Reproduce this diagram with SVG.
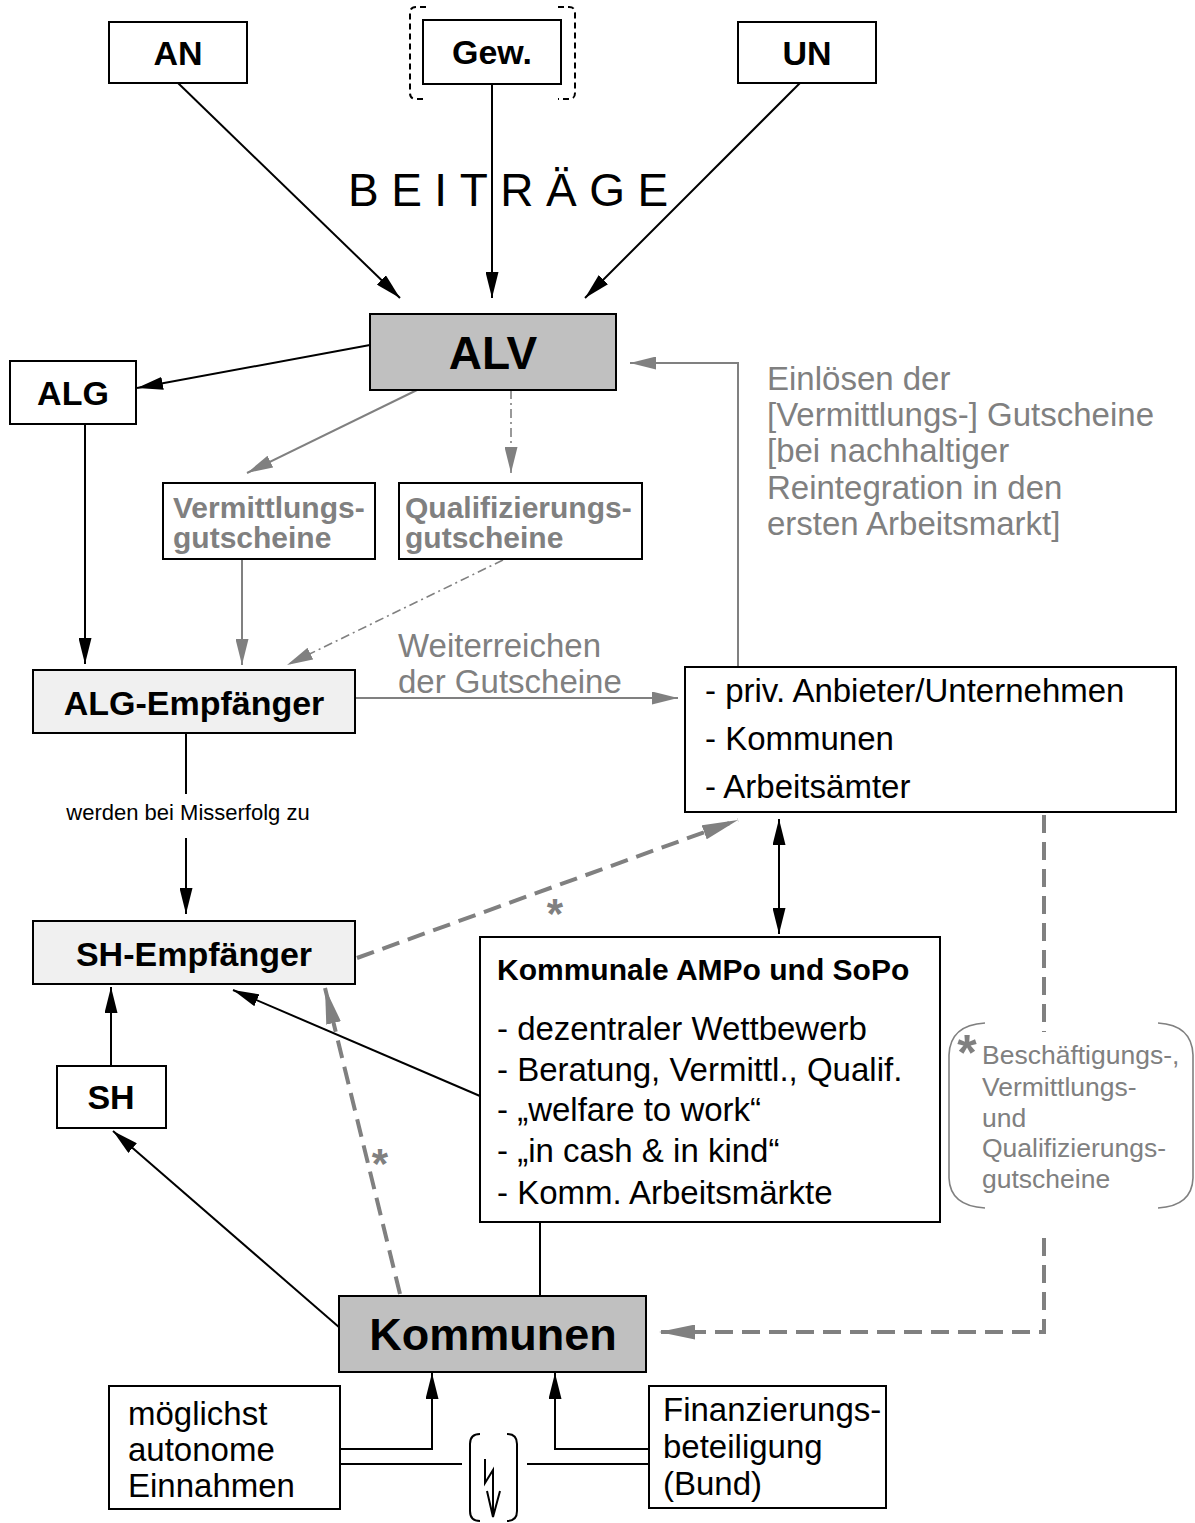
<svg xmlns="http://www.w3.org/2000/svg" width="1195" height="1523" viewBox="0 0 1195 1523">
<style>
text{font-family:"Liberation Sans",Arial,Helvetica,sans-serif;}
.box{fill:#fff;stroke:#000;stroke-width:2;}
.dark{fill:#c0c0c0;stroke:#000;stroke-width:2;}
.light{fill:#f0f0f0;stroke:#000;stroke-width:2;}
.b34{font-size:34px;font-weight:bold;text-anchor:middle;fill:#000;}
.g30{font-size:30px;font-weight:bold;fill:#808080;}
.t33{font-size:33px;fill:#000;}
.gt33{font-size:33px;fill:#808080;}
.ln{fill:none;stroke:#000;stroke-width:2;}
.gl{fill:none;stroke:#808080;stroke-width:2;}
.gdd{fill:none;stroke:#808080;stroke-width:1.6;stroke-dasharray:9 4 2 4;}
.gd{fill:none;stroke:#808080;stroke-width:4;stroke-dasharray:18 9;}
.star{font-weight:bold;fill:#808080;text-anchor:middle;}
</style>
<defs>
<marker id="ab" viewBox="0 0 26 13" refX="26" refY="6.5" markerWidth="26" markerHeight="13" markerUnits="userSpaceOnUse" orient="auto-start-reverse"><path d="M0,0 L26,6.5 L0,13 z" fill="#000"/></marker>
<marker id="ag" viewBox="0 0 26 13" refX="26" refY="6.5" markerWidth="26" markerHeight="13" markerUnits="userSpaceOnUse" orient="auto"><path d="M0,0 L26,6.5 L0,13 z" fill="#808080"/></marker>
<marker id="agb" viewBox="0 0 36 15" refX="36" refY="7.5" markerWidth="36" markerHeight="15" markerUnits="userSpaceOnUse" orient="auto"><path d="M0,0 L36,7.5 L0,15 z" fill="#808080"/></marker>
</defs>

<g id="connectors">
<path class="ln" d="M178,83 L400,298" marker-end="url(#ab)"/>
<path class="ln" d="M492,84 L492,298" marker-end="url(#ab)"/>
<path class="ln" d="M800,83 L585,298" marker-end="url(#ab)"/>
<path class="ln" d="M370,345 L137,388" marker-end="url(#ab)"/>
<path class="ln" d="M85,424 L85,664" marker-end="url(#ab)"/>
<path class="gl" d="M417,390 L247,473" marker-end="url(#ag)"/>
<path class="gdd" d="M511,390 L511,473" marker-end="url(#ag)"/>
<path class="gl" d="M242,559 L242,665" marker-end="url(#ag)"/>
<path class="gdd" d="M503,560 L287,665" marker-end="url(#ag)"/>
<path class="gl" d="M355,698 L678,698" marker-end="url(#ag)"/>
<path class="gl" d="M738,667 L738,363 L630,363" marker-end="url(#ag)"/>
<path class="ln" d="M186,733 L186,794"/>
<path class="ln" d="M186,838 L186,914" marker-end="url(#ab)"/>
<path class="ln" d="M779,819 L779,934" marker-start="url(#ab)" marker-end="url(#ab)"/>
<path class="gd" d="M357,958 L738,820" marker-end="url(#agb)"/>
<path class="gd" d="M1044,815 L1044,1032"/>
<path class="gd" d="M1044,1238 L1044,1332 L659,1332" marker-end="url(#agb)"/>
<path class="ln" d="M480,1096 L233,990" marker-end="url(#ab)"/>
<path class="gd" d="M400,1294 L325,988" marker-end="url(#agb)"/>
<path class="ln" d="M111,1066 L111,987" marker-end="url(#ab)"/>
<path class="ln" d="M340,1328 L113,1131" marker-end="url(#ab)"/>
<path class="ln" d="M540,1222 L540,1296"/>
<path class="ln" d="M340,1449 L432,1449 L432,1373" marker-end="url(#ab)"/>
<path class="ln" d="M649,1449 L555,1449 L555,1373" marker-end="url(#ab)"/>
<path class="ln" d="M340,1464 L462,1464"/>
<path class="ln" d="M527,1464 L649,1464"/>
</g>

<g id="beitraege">
<text x="348" y="206" style="font-size:46px;letter-spacing:12.5px;fill:#000">BEITRÄGE</text>
</g>

<g id="AN"><rect class="box" x="109" y="22" width="138" height="61"/><text class="b34" x="178" y="65">AN</text></g>
<g id="Gew">
<path d="M426,7 L416,7 Q410,7 410,13 L410,93 Q410,99 416,99 L426,99" fill="none" stroke="#000" stroke-width="2" stroke-dasharray="6 4"/>
<path d="M558,7 L569,7 Q575,7 575,13 L575,93 Q575,99 569,99 L558,99" fill="none" stroke="#000" stroke-width="2" stroke-dasharray="6 4"/>
<rect class="box" x="423" y="20" width="138" height="64"/><text class="b34" x="492" y="64">Gew.</text></g>
<g id="UN"><rect class="box" x="738" y="22" width="138" height="61"/><text class="b34" x="807" y="65">UN</text></g>

<g id="ALV"><rect class="dark" x="370" y="314" width="246" height="76"/><text x="493" y="369" style="font-size:46px;font-weight:bold;text-anchor:middle">ALV</text></g>
<g id="ALG"><rect class="box" x="10" y="361" width="126" height="63"/><text class="b34" x="73" y="405">ALG</text></g>

<g id="einloesen">
<text class="gt33" x="767" y="390">Einlösen der</text>
<text class="gt33" x="767" y="426">[Vermittlungs-] Gutscheine</text>
<text class="gt33" x="767" y="462">[bei nachhaltiger</text>
<text class="gt33" x="767" y="499">Reintegration in den</text>
<text class="gt33" x="767" y="535">ersten Arbeitsmarkt]</text>
</g>

<g id="vermittlungsgutscheine"><rect class="box" x="163" y="483" width="212" height="76"/><text class="g30" x="173" y="518">Vermittlungs-</text><text class="g30" x="173" y="548">gutscheine</text></g>
<g id="qualifizierungsgutscheine"><rect class="box" x="399" y="483" width="243" height="76"/><text class="g30" x="405" y="518">Qualifizierungs-</text><text class="g30" x="405" y="548">gutscheine</text></g>

<g id="weiterreichen">
<text class="gt33" x="398" y="657">Weiterreichen</text>
<text class="gt33" x="398" y="693">der Gutscheine</text>
</g>

<g id="ALG-Empfaenger"><rect class="light" x="33" y="670" width="322" height="63"/><text class="b34" x="194" y="715">ALG-Empfänger</text></g>
<g id="anbieter"><rect class="box" x="685" y="667" width="491" height="145"/>
<text class="t33" x="705" y="702">- priv. Anbieter/Unternehmen</text>
<text class="t33" x="705" y="750">- Kommunen</text>
<text class="t33" x="705" y="798">- Arbeitsämter</text></g>

<g id="misserfolg"><text x="188" y="820" style="font-size:22px;text-anchor:middle;fill:#000">werden bei Misserfolg zu</text></g>

<g id="SH-Empfaenger"><rect class="light" x="33" y="921" width="322" height="63"/><text class="b34" x="194" y="966">SH-Empfänger</text></g>

<g id="stars">
<text class="star" x="555" y="928" style="font-size:42px">*</text>
<text class="star" x="380" y="1178" style="font-size:42px">*</text>
</g>

<g id="kommunale"><rect class="box" x="480" y="937" width="460" height="285"/>
<text x="497" y="980" style="font-size:30px;font-weight:bold;fill:#000">Kommunale AMPo und SoPo</text>
<text class="t33" x="497" y="1040">- dezentraler Wettbewerb</text>
<text class="t33" x="497" y="1081">- Beratung, Vermittl., Qualif.</text>
<text class="t33" x="497" y="1121">- „welfare to work“</text>
<text class="t33" x="497" y="1162">- „in cash &amp; in kind“</text>
<text class="t33" x="497" y="1204">- Komm. Arbeitsmärkte</text></g>

<g id="gutschein-hinweis">
<path d="M985,1023 Q950,1025 949,1055 L949,1178 Q950,1206 985,1208" fill="none" stroke="#808080" stroke-width="1.6"/>
<path d="M1158,1023 Q1192,1025 1193,1055 L1193,1178 Q1192,1206 1158,1208" fill="none" stroke="#808080" stroke-width="1.6"/>
<text class="star" x="967" y="1070" style="font-size:50px">*</text>
<text x="982" y="1064" style="font-size:26.5px;fill:#808080">Beschäftigungs-,</text>
<text x="982" y="1096" style="font-size:26.5px;fill:#808080">Vermittlungs-</text>
<text x="982" y="1127" style="font-size:26.5px;fill:#808080">und</text>
<text x="982" y="1157" style="font-size:26.5px;fill:#808080">Qualifizierungs-</text>
<text x="982" y="1188" style="font-size:26.5px;fill:#808080">gutscheine</text>
</g>

<g id="SH"><rect class="box" x="57" y="1066" width="109" height="62"/><text class="b34" x="111" y="1109">SH</text></g>

<g id="Kommunen"><rect class="dark" x="339" y="1296" width="307" height="76"/><text x="493" y="1350" style="font-size:45px;font-weight:bold;text-anchor:middle">Kommunen</text></g>

<g id="einnahmen"><rect class="box" x="109" y="1386" width="231" height="123"/>
<text class="t33" x="128" y="1425">möglichst</text>
<text class="t33" x="128" y="1461">autonome</text>
<text class="t33" x="128" y="1497">Einnahmen</text></g>

<g id="finanzierung"><rect class="box" x="649" y="1386" width="237" height="122"/>
<text class="t33" x="663" y="1421">Finanzierungs-</text>
<text class="t33" x="663" y="1458">beteiligung</text>
<text class="t33" x="663" y="1495">(Bund)</text></g>

<g id="konflikt">
<path d="M480,1434 Q470,1434 470,1444 L470,1511 Q470,1521 480,1521" fill="none" stroke="#000" stroke-width="2"/>
<path d="M507,1434 Q517,1434 517,1444 L517,1511 Q517,1521 507,1521" fill="none" stroke="#000" stroke-width="2"/>
<path d="M485,1459 L485,1483 L493,1470 L493,1517 M487,1491 L493,1517 L500,1491" fill="none" stroke="#000" stroke-width="2"/>
</g>
</svg>
